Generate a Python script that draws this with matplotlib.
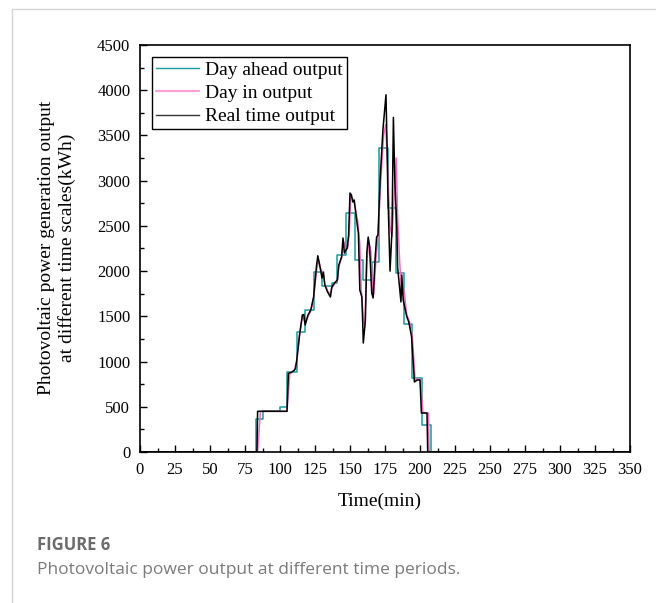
import numpy as np
import matplotlib
matplotlib.use("Agg")
from matplotlib import pyplot as plt
from matplotlib.lines import Line2D
from matplotlib.ticker import MultipleLocator

### data ###

# day ahead output (step function: start of step, value)
ahead_x = [0, 83, 88, 100, 105, 112, 118, 124, 130, 137, 141, 147, 153.5, 159,
           165.5, 171, 177, 183, 188.5, 194, 201.5, 207.5, 350]
ahead_y = [0, 370, 450, 500, 880, 1330, 1570, 1990, 1830, 1870, 2180, 2640, 2120, 1900,
           2100, 3360, 2700, 1980, 1420, 820, 300, 0, 0]

# day in output
dayin_x = [0, 84, 86, 105, 107, 110, 112, 114, 116, 118, 120, 122, 124, 126, 127.5,
           129, 131, 132, 134, 136, 137, 139, 141, 142, 144, 145.5, 147, 148.5, 149.5,
           150.5, 152, 153, 155.5, 157, 158, 159.5, 160.5, 162, 163.5, 165, 166, 167,
           168.5, 170, 172, 174, 175.5, 177, 178.5, 180, 181.5, 183, 184, 185.5, 187,
           188.5, 190.5, 192.5, 194.5, 196.5, 198.5, 200.5, 202, 206, 206.5, 350]
dayin_y = [0, 0, 450, 450, 870, 900, 1000, 1300, 1500, 1430, 1500, 1560, 1700, 2000, 2130,
           2030, 1960, 1860, 1780, 1740, 1810, 1860, 1900, 2050, 2150, 2330, 2220, 2270, 2420,
           2830, 2800, 2760, 2550, 2300, 1800, 1480, 1380, 2100, 2330, 2200, 1820, 1740,
           2130, 2380, 3000, 3500, 3620, 3100, 2500, 2380, 2800, 3250, 2600, 2100, 1750,
           1800, 1520, 1440, 1280, 800, 810, 800, 440, 430, 0, 0]

# real time output
real_x = [0, 83.5, 84, 105, 106, 108, 110, 111, 112, 114, 116, 117, 118, 120, 122, 124,
          126, 127, 129, 130, 131, 132, 134, 136, 137, 139, 141, 142, 144, 145, 146, 148,
          149, 150, 151, 152, 153, 155, 156, 157, 158.5, 159.5, 161, 162, 163, 164, 165.5,
          166.5, 168, 169, 170, 171.5, 173.5, 175.7, 176.5, 177, 178.6, 180, 181, 182,
          183.5, 184, 186.4, 187, 188, 190.5, 192, 194, 196, 198, 200, 201, 205, 205.5, 350]
real_y = [0, 0, 450, 450, 870, 880, 900, 920, 1020, 1300, 1515, 1520, 1404, 1515, 1570, 1714,
          2046, 2170, 2012, 1924, 1990, 1846, 1769, 1714, 1824, 1869, 1902, 2068, 2156, 2366,
          2200, 2256, 2400, 2864, 2842, 2764, 2786, 2532, 2421, 1791, 1714, 1205, 1460, 2200,
          2377, 2267, 1760, 1703, 2156, 2377, 2400, 3008, 3560, 3950, 3372, 2897, 2000, 2455,
          3700, 3008, 2455, 2046, 1659, 1957, 1680, 1500, 1437, 1272, 774, 796, 796, 431, 431,
          0, 0]

labels = ["Day ahead output", "Day in output", "Real time output"]

### plot ###

plt.rcParams['font.family'] = ['Liberation Serif', 'DejaVu Serif']

W, H = 656, 603
fig = plt.figure(figsize=(W / 100, H / 100), dpi=100)
ax = fig.add_axes([140 / W, 1 - 452 / H, 490 / W, 407 / H])

ax.step(ahead_x, ahead_y, where='post', color='#1a9a9a', lw=1.1, label=labels[0])
ax.plot(dayin_x, dayin_y, color='#f06ec0', lw=1.1, label=labels[1])
ax.plot(real_x, real_y, color='black', lw=1.1, label=labels[2])

ax.set_xlim(0, 350)
ax.set_ylim(0, 4500)
ax.xaxis.set_major_locator(MultipleLocator(25))
ax.xaxis.set_minor_locator(MultipleLocator(12.5))
ax.yaxis.set_major_locator(MultipleLocator(500))
ax.yaxis.set_minor_locator(MultipleLocator(250))
ax.tick_params(which='both', direction='in', labelsize=12, top=False, right=False)
ax.tick_params(which='major', length=5, width=1, pad=7)
ax.tick_params(which='minor', length=3, width=1)
for sp in ax.spines.values():
    sp.set_linewidth(1.2)

handles = [Line2D([], [], color='#1a9a9a', lw=1),
           Line2D([], [], color='#ff9ed8', lw=1.5),
           Line2D([], [], color='#333333', lw=1)]
lgd = ax.legend(handles, labels, loc='upper left', bbox_to_anchor=(0.0245, 0.9705),
                borderaxespad=0, fontsize=14, fancybox=False, framealpha=1,
                edgecolor='black', handlelength=2.2, handletextpad=0.35,
                labelspacing=0.3, borderpad=0.2)
lgd.get_frame().set_linewidth(1.0)

fig.text(57 / W, 1 - 248 / H,
         "Photovoltaic power generation output\nat different time scales(kWh)",
         rotation=90, ha='center', va='center', fontsize=14, linespacing=1.25)
fig.text(380 / W, 1 - 501 / H, "Time(min)", ha='center', va='center', fontsize=14)

# caption card
fig.add_artist(Line2D([12 / W, 12 / W, 1], [0, 1 - 9 / H, 1 - 9 / H],
                      color='#d4d4d4', lw=1.0))
fig.text(37 / W, 1 - 545 / H, "FIGURE 6", ha='left', va='center', fontsize=12,
         fontweight='bold', color='#6b6b6b', family=['Open Sans', 'DejaVu Sans'])
fig.text(37 / W, 1 - 570 / H, "Photovoltaic power output at different time periods.",
         ha='left', va='center', fontsize=12.5, color='#7a7a7a',
         family=['Open Sans', 'DejaVu Sans'])

fig.savefig("out.png", dpi=100)
